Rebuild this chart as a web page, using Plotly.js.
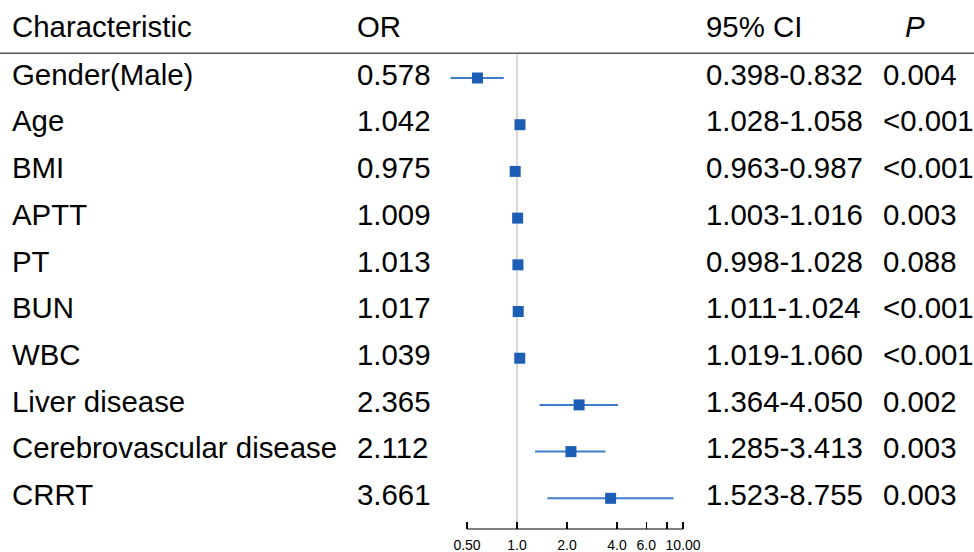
<!DOCTYPE html>
<html>
<head>
<meta charset="utf-8">
<script src="https://cdn.plot.ly/plotly-3.0.1.min.js"></script>
<style>html,body{margin:0;padding:0;background:#fff;}#chart{width:974px;height:552px;}</style>
</head>
<body>
<div id="chart"></div>
<script>
// ---- data ----
var characteristics = ["Gender(Male)", "Age", "BMI", "APTT", "PT", "BUN", "WBC", "Liver disease", "Cerebrovascular disease", "CRRT"];
var orValues = [0.578, 1.042, 0.975, 1.009, 1.013, 1.017, 1.039, 2.365, 2.112, 3.661];
var ciLower = [0.398, 1.028, 0.963, 1.003, 0.998, 1.011, 1.019, 1.364, 1.285, 1.523];
var ciUpper = [0.832, 1.058, 0.987, 1.016, 1.028, 1.024, 1.060, 4.050, 3.413, 8.755];
var pValues = ["0.004", "<0.001", "<0.001", "0.003", "0.088", "<0.001", "<0.001", "0.002", "0.003", "0.003"];
var headers = ["Characteristic", "OR", "95% CI", "<i>P</i>"];
var tickVals = [0.5, 1, 2, 4, 6, 8, 10];
var tickLabels = ["0.50", "1.0", "2.0", "4.0", "6.0", "", "10.00"];

// ---- layout constants ----
var W = 974;
var FONT = "Liberation Sans, Arial, Helvetica, sans-serif";
var FS = 29.4;
var colX = [10 / W, 355 / W, 704 / W, 881 / W];
var headerPX = 915 / W;
// log axis spanning full width: value 1 at px 517, 50 px per doubling
var pxOne = 517, pxPerDecade = 50 / Math.log10(2);
var xRange = [(0 - pxOne) / pxPerDecade, (W - pxOne) / pxPerDecade];

var rows = characteristics.map(function (_, i) { return i; });
var ciText = ciLower.map(function (l, i) { return l.toFixed(3) + "-" + ciUpper[i].toFixed(3); });
var orText = orValues.map(function (v) { return v.toFixed(3); });

var trace = {
  type: "scatter",
  mode: "markers",
  x: orValues,
  y: rows,
  marker: { symbol: "square", size: 11, color: "#1c5db5", line: { width: 0 } },
  error_x: {
    type: "data",
    symmetric: false,
    array: orValues.map(function (v, i) { return ciUpper[i] - v; }),
    arrayminus: orValues.map(function (v, i) { return v - ciLower[i]; }),
    color: "#3f7dcb",
    thickness: 2,
    width: 0
  },
  hoverinfo: "skip",
  showlegend: false
};

var annotations = [];
function addText(txt, x, y, anchor) {
  annotations.push({
    text: txt, x: x, y: y, xref: "paper", yref: "y",
    xanchor: anchor || "left", yanchor: "middle", showarrow: false,
    font: { family: FONT, size: FS, color: "#000" }
  });
}
var headerY = -1.1;
addText(headers[0], colX[0], headerY);
addText(headers[1], colX[1], headerY);
addText(headers[2], colX[2], headerY);
addText(headers[3], headerPX, headerY, "center");
rows.forEach(function (i) {
  var ty = i - 0.08;
  addText(characteristics[i], colX[0], ty);
  addText(orText[i], colX[1], ty);
  addText(ciText[i], colX[2], ty);
  addText(pValues[i], colX[3], ty);
});

var layout = {
  width: 974,
  height: 552,
  margin: { l: 0, r: 0, t: 0, b: 23, pad: 0 },
  paper_bgcolor: "#fff",
  plot_bgcolor: "rgba(0,0,0,0)",
  showlegend: false,
  xaxis: {
    type: "log",
    domain: [0, 1],
    range: xRange,
    showline: false,
    ticks: "inside", ticklen: 7, tickwidth: 1.2, tickcolor: "#000",
    tickvals: tickVals, ticktext: tickLabels,
    tickfont: { family: FONT, size: 14, color: "#000" },
    ticklabelstandoff: 6,
    showgrid: false, zeroline: false, fixedrange: true
  },
  yaxis: {
    range: [9.657, -1.67],
    visible: false, showgrid: false, zeroline: false, fixedrange: true
  },
  shapes: [
    { type: "line", xref: "x", yref: "y", x0: 1, x1: 1, y0: -0.5, y1: 9.5,
      line: { color: "#cfcfcf", width: 1.6 }, layer: "below" },
    { type: "line", xref: "paper", yref: "y", x0: 0, x1: 1, y0: -0.53, y1: -0.53,
      line: { color: "#555", width: 1.6 } },
    { type: "line", xref: "x", yref: "paper", x0: tickVals[0], x1: tickVals[tickVals.length - 1], y0: 0, y1: 0,
      line: { color: "#000", width: 1.2 } }
  ],
  annotations: annotations
};

Plotly.newPlot("chart", [trace], layout, { displayModeBar: false, staticPlot: true });
</script>
</body>
</html>
